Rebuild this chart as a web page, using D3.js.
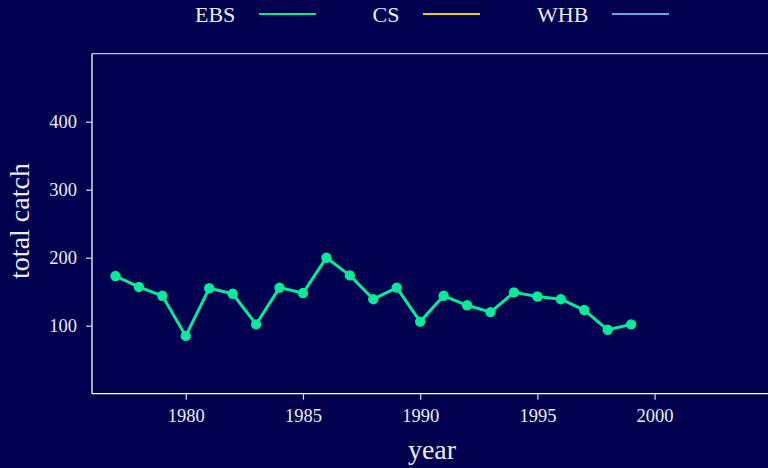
<!DOCTYPE html>
<html><head><meta charset="utf-8">
<script src="https://cdn.jsdelivr.net/npm/d3@7"></script>
<style>
html,body{margin:0;padding:0;background:#00004f;overflow:hidden;}
text{font-family:"Liberation Serif","Times New Roman",serif;fill:#ececf4;}
</style></head>
<body>
<svg id="chart" width="768" height="468"></svg>
<script>
const years = [1977,1978,1979,1980,1981,1982,1983,1984,1985,1986,1987,1988,1989,1990,1991,1992,1993,1994,1995,1996,1997,1998,1999];
const ebs = [173,157,144,85,155,147,102,156,148,200,174,139,156,106,144,130,120,149,143,139,123,94,102];
const seriesNames = ["EBS","CS","WHB"];
const seriesColors = ["#00ec98","#e6d200","#6fa3dc"];
const xTicks = [1980,1985,1990,1995,2000];
const yTicks = [100,200,300,400];

const svg = d3.select("#chart");
svg.append("rect").attr("width",768).attr("height",468).attr("fill","#00004f");

const x = d3.scaleLinear().domain([1976,2005]).range([92,771.8]);
const y = d3.scaleLinear().domain([0,500]).range([393.7,53.7]);

// plot box
svg.append("line").attr("x1",92).attr("x2",772).attr("y1",53.7).attr("y2",53.7).attr("stroke","#c4c4d4").attr("stroke-width",1.3);
svg.append("line").attr("x1",92).attr("x2",772).attr("y1",393.7).attr("y2",393.7).attr("stroke","#ffffff").attr("stroke-width",1.3);
svg.append("line").attr("x1",92).attr("x2",92).attr("y1",53.7).attr("y2",393.7).attr("stroke","#ffffff").attr("stroke-width",1.3);

// x axis
const xAxis = svg.append("g").attr("transform","translate(0,393.7)")
  .call(d3.axisBottom(x).tickValues(xTicks).tickFormat(d3.format("d")).tickSize(6).tickPadding(9));
xAxis.select(".domain").remove();
xAxis.selectAll("line").attr("stroke","#d8d8e4").attr("stroke-width",1.2);
xAxis.selectAll("text").attr("font-size",18.5).attr("fill","#ececf4").attr("font-family","Liberation Serif, serif");

// y axis
const yAxis = svg.append("g").attr("transform","translate(92,0)")
  .call(d3.axisLeft(y).tickValues(yTicks).tickFormat(d3.format("d")).tickSize(6).tickPadding(9));
yAxis.select(".domain").remove();
yAxis.selectAll("line").attr("stroke","#d8d8e4").attr("stroke-width",1.2);
yAxis.selectAll("text").attr("font-size",18.5).attr("fill","#ececf4").attr("font-family","Liberation Serif, serif");

// axis titles
svg.append("text").attr("x",432).attr("y",459).attr("text-anchor","middle").attr("font-size",28).text("year");
svg.append("text").attr("transform","translate(29,221) rotate(-90)").attr("text-anchor","middle").attr("font-size",28).text("total catch");

// series
const data = years.map((yr,i)=>({year:yr,value:ebs[i]}));
svg.append("path").datum(data)
  .attr("d", d3.line().x(d=>x(d.year)).y(d=>y(d.value)))
  .attr("fill","none").attr("stroke",seriesColors[0]).attr("stroke-width",3).attr("stroke-linejoin","round");
svg.selectAll("circle.pt").data(data).enter().append("circle").attr("class","pt")
  .attr("cx",d=>x(d.year)).attr("cy",d=>y(d.value)).attr("r",5.2).attr("fill",seriesColors[0]);

// legend
const legX = [195, 372.5, 537];
const legLine = [[259,316],[423,480],[612,669]];
const leg = svg.append("g");
seriesNames.forEach((n,i)=>{
  leg.append("text").attr("x",legX[i]).attr("y",22).attr("font-size",22).text(n);
  leg.append("line").attr("x1",legLine[i][0]).attr("x2",legLine[i][1]).attr("y1",14).attr("y2",14)
    .attr("stroke",seriesColors[i]).attr("stroke-width",2);
});
</script>
</body></html>
